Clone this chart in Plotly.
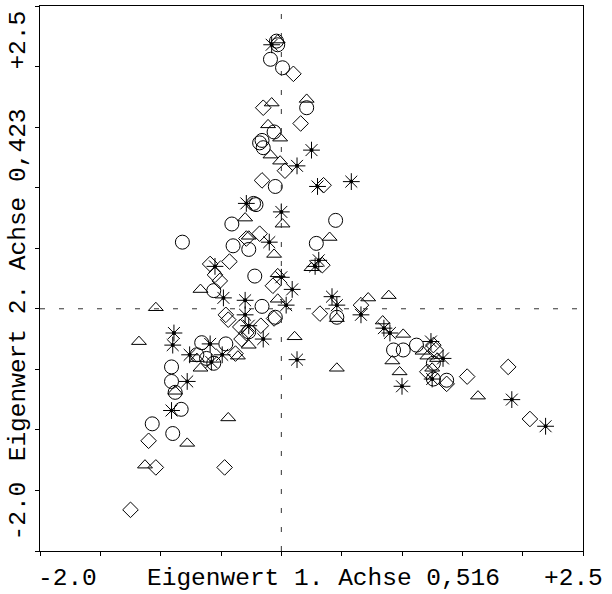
import plotly.graph_objects as go

# Sample scores on the first two ordination axes, one pair of lists per group
circle_x = [-0.04, -0.03, -0.09, 0.01, 0.21, -0.06, -0.16, -0.18, -0.15, -0.05,
            -0.23, -0.21, -0.41, -0.82, -0.40, -0.27, 0.45, 0.29, -0.22, -0.56,
            -0.16, -0.05, 0.46, -0.27, -0.66, -0.46, -0.70, -0.62, -0.56, -0.91,
            -0.91, -0.88, -0.83, -1.07, -0.90, 0.93, 1.01, 1.12, 1.26, 1.26, 1.37]
circle_y = [2.21, 2.18, 2.06, 1.99, 1.66, 1.46, 1.39, 1.37, 1.33, 1.01,
            0.87, 0.86, 0.70, 0.55, 0.52, 0.49, 0.73, 0.54, 0.27, 0.15,
            0.02, -0.07, -0.07, -0.19, -0.28, -0.29, -0.38, -0.41, -0.45, -0.48,
            -0.60, -0.69, -0.83, -0.95, -1.03, -0.34, -0.34, -0.30, -0.45, -0.58, -0.59]

diamond_x = [0.10, -0.15, 0.16, 0.03, -0.16, 0.35, -0.18, -0.29, -0.59, -0.43,
             -0.55, -0.51, -0.07, -0.46, -0.44, -0.06, -0.34, -0.17, -0.33, -0.29,
             -0.38, 0.32, 0.66, 0.34, 1.26, 1.28, 1.21, 1.37, 1.54, 1.88,
             2.06, -1.10, -1.04, -0.47, -1.25]
diamond_y = [1.94, 1.66, 1.53, 1.14, 1.06, 1.02, 0.62, 0.58, 0.37, 0.39,
             0.28, 0.23, 0.19, -0.05, -0.09, -0.08, -0.15, -0.14, -0.25, -0.20,
             -0.37, -0.04, 0.03, 0.36, -0.30, -0.34, -0.52, -0.62, -0.56, -0.48,
             -0.91, -1.09, -1.31, -1.31, -1.66]

triangle_x = [-0.03, -0.08, 0.21, -0.11, -0.01, -0.09, -0.01, -0.30, 0.01, -0.27,
              -0.06, 0.40, -0.03, -0.67, -0.03, -1.04, 0.25, 0.72, 0.89, 0.46,
              -1.18, -0.27, -0.36, -0.70, -0.67, -0.88, 0.11, 0.46, 0.84, 1.01,
              0.92, 0.98, 1.17, 1.21, 1.29, 1.25, 1.63, -0.44, -0.78, -1.13]
triangle_y = [2.23, 1.71, 1.74, 1.53, 1.42, 1.28, 1.23, 0.76, 0.71, 0.61,
              0.46, 0.60, 0.30, 0.17, 0.09, 0.02, 0.35, 0.10, 0.12, -0.07,
              -0.26, -0.29, -0.38, -0.40, -0.48, -0.67, -0.22, -0.48, -0.09, -0.20,
              -0.42, -0.51, -0.34, -0.38, -0.40, -0.48, -0.71, -0.89, -1.10, -1.28]

star_x = [-0.08, 0.25, 0.13, 0.30, 0.58, -0.29, 0.00, -0.10, -0.55, 0.31,
          0.28, 0.00, 0.09, -0.48, -0.30, 0.04, 0.42, 0.46, 0.66, -0.30,
          -0.27, -0.89, -0.90, -0.59, -0.15, -0.76, -0.58, -0.49, -0.78, -0.91,
          0.13, 0.85, 0.90, 1.00, 1.24, 1.34, 1.25, 1.91, 2.19]
star_y = [2.18, 1.31, 1.18, 1.01, 1.05, 0.87, 0.80, 0.55, 0.35, 0.40,
          0.35, 0.26, 0.16, 0.09, 0.07, 0.03, 0.10, 0.03, -0.05, -0.05,
          -0.14, -0.20, -0.30, -0.29, -0.25, -0.38, -0.44, -0.38, -0.60, -0.84,
          -0.42, -0.16, -0.20, -0.64, -0.27, -0.41, -0.58, -0.75, -0.97]

x_range = [-2.0, 2.5]
y_range = [-2.0, 2.5]
tick_step = 0.5

x_title = "Eigenwert 1. Achse 0,516"
y_title = "Eigenwert 2. Achse 0,423"
low_label = "-2.0"
high_label = "+2.5"

INK = "black"
FONT = dict(family="Courier New, Liberation Mono, monospace", size=24.5, color=INK)

# Flattened triangle outline (half width / height in axis units)
TRI_HW = 0.062
TRI_HH = 0.034

tri_x, tri_y = [], []
for cx, cy in zip(triangle_x, triangle_y):
    tri_x += [cx - TRI_HW, cx + TRI_HW, cx, cx - TRI_HW, None]
    tri_y += [cy - TRI_HH, cy - TRI_HH, cy + TRI_HH, cy - TRI_HH, None]

fig = go.Figure()

fig.add_trace(go.Scatter(
    x=tri_x, y=tri_y, mode="lines",
    line=dict(color=INK, width=1), hoverinfo="skip", name="Dreieck"))

fig.add_trace(go.Scatter(
    x=circle_x, y=circle_y, mode="markers", name="Kreis",
    marker=dict(symbol="circle-open", size=14, color=INK, line=dict(width=1))))

fig.add_trace(go.Scatter(
    x=diamond_x, y=diamond_y, mode="markers", name="Raute",
    marker=dict(symbol="diamond-open", size=12, color=INK, line=dict(width=1))))

fig.add_trace(go.Scatter(
    x=star_x, y=star_y, mode="markers", name="Stern",
    marker=dict(symbol="asterisk-open", size=14, color=INK, line=dict(width=1, color=INK))))

fig.add_trace(go.Scatter(
    x=star_x, y=star_y, mode="markers", hoverinfo="skip", name="Sternmitte",
    marker=dict(symbol="circle", size=4, color=INK, line=dict(width=0))))

ticks = [x_range[0] + i * tick_step for i in range(int(round((x_range[1] - x_range[0]) / tick_step)) + 1)]

axis_style = dict(
    showgrid=False, zeroline=False, showline=True, linecolor=INK, linewidth=1,
    mirror=True, ticks="outside", ticklen=4, tickcolor=INK, tickwidth=1,
    tickvals=ticks, showticklabels=False, fixedrange=True,
)

fig.update_xaxes(range=x_range, **axis_style)
fig.update_yaxes(range=y_range, **axis_style)

# Dashed reference lines through the origin
dash_line = dict(color="#333333", width=1, dash="5px,14px")
fig.add_shape(type="line", xref="x", yref="paper", x0=0, x1=0, y0=0, y1=1, line=dash_line)
fig.add_shape(type="line", xref="paper", yref="y", x0=0, x1=1, y0=0, y1=0, line=dash_line)

# Axis captions: end values with the title between them
ann = dict(showarrow=False, font=FONT, xref="paper", yref="paper")
fig.add_annotation(text=low_label, x=0.05, y=-0.05, xanchor="center", yanchor="middle", **ann)
fig.add_annotation(text=x_title, x=0.522, y=-0.05, xanchor="center", yanchor="middle", **ann)
fig.add_annotation(text=high_label, x=0.982, y=-0.05, xanchor="center", yanchor="middle", **ann)
fig.add_annotation(text=low_label, x=-0.04, y=0.073, textangle=-90, xanchor="center", yanchor="middle", **ann)
fig.add_annotation(text=y_title, x=-0.04, y=0.488, textangle=-90, xanchor="center", yanchor="middle", **ann)
fig.add_annotation(text=high_label, x=-0.04, y=0.937, textangle=-90, xanchor="center", yanchor="middle", **ann)

fig.update_layout(
    width=612, height=594,
    margin=dict(l=40, r=29, t=6, b=43),
    plot_bgcolor="white", paper_bgcolor="white",
    showlegend=False,
)

fig.write_html("out.html")
